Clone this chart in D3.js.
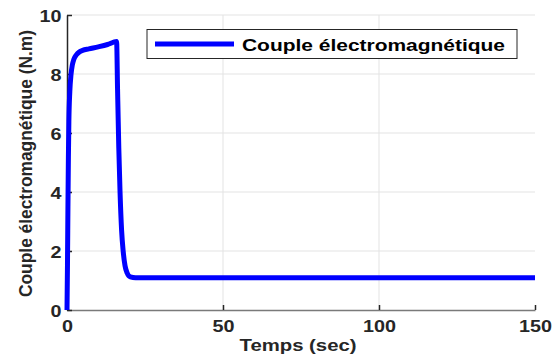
<!DOCTYPE html>
<html>
<head>
<meta charset="utf-8">
<script src="https://cdn.jsdelivr.net/npm/d3@7"></script>
<style>
  html, body { margin: 0; padding: 0; background: #fff; }
  svg { display: block; font-family: "Liberation Sans", Arial, sans-serif; }
</style>
</head>
<body>
<svg id="chart" width="558" height="359"></svg>
<script>
// Electromagnetic torque of the motor versus time
const timeSec = [0, 0.15, 0.3, 0.45, 0.6, 0.9, 1.3, 1.7, 2.2, 3, 4, 5, 7, 10, 13, 15.9,
                 16.2, 16.6, 17.0, 17.5, 18.0, 18.6, 19.3, 20.3, 22, 25, 50, 100, 150];
const torque  = [0, 1.5, 3.5, 5.2, 6.4, 7.4, 8.0, 8.3, 8.5, 8.65, 8.75, 8.8, 8.85, 8.92, 9.0, 9.1,
                 7.5, 5.5, 4.0, 2.7, 2.0, 1.5, 1.25, 1.12, 1.09, 1.09, 1.09, 1.09, 1.09];
const xTicks = [0, 50, 100, 150];
const yTicks = [0, 2, 4, 6, 8, 10];
const seriesName = "Couple électromagnétique";
const xTitle = "Temps (sec)";
const yTitle = "Couple électromagnétique (N.m)";

const svg = d3.select("#chart");
const margin = { left: 67, right: 23, top: 15, bottom: 49 };
const W = 558, H = 359;
const FONT = "Liberation Sans, Arial, sans-serif";

const x = d3.scaleLinear().domain([0, 150]).range([margin.left, W - margin.right]);
const y = d3.scaleLinear().domain([0, 10]).range([H - margin.bottom, margin.top]);

// grid
svg.append("g").selectAll("line").data(yTicks.filter(d => d > 0)).join("line")
  .attr("x1", x(0)).attr("x2", x(150))
  .attr("y1", d => y(d)).attr("y2", d => y(d))
  .attr("stroke", "#e3e3e3").attr("stroke-width", 1);
svg.append("g").selectAll("line").data([50, 100]).join("line")
  .attr("x1", d => x(d)).attr("x2", d => x(d))
  .attr("y1", y(0)).attr("y2", y(10))
  .attr("stroke", "#e3e3e3").attr("stroke-width", 1);

// tick labels are set wide, about 11px per digit
const labelWidth = d => String(d).length * 11;

const xAxis = d3.axisBottom(x).tickValues(xTicks).tickSizeInner(-5).tickSizeOuter(0).tickPadding(10);
const yAxis = d3.axisLeft(y).tickValues(yTicks).tickSizeInner(-5).tickSizeOuter(0).tickPadding(5.5);

const gx = svg.append("g").attr("transform", `translate(0,${y(0)})`).call(xAxis);
gx.select(".domain").attr("stroke", "#7a7a7a").attr("stroke-width", 1.5);
gx.selectAll(".tick line").attr("stroke", "#262626").attr("stroke-width", 1.5);
gx.selectAll(".tick text").attr("fill", "#262626").attr("font-size", 16.5).attr("font-weight", "bold")
  .attr("font-family", FONT)
  .attr("textLength", d => labelWidth(d)).attr("lengthAdjust", "spacingAndGlyphs");

const gy = svg.append("g").attr("transform", `translate(${x(0)},0)`).call(yAxis);
gy.select(".domain").attr("stroke", "#262626").attr("stroke-width", 1.5);
gy.selectAll(".tick line").attr("stroke", "#262626").attr("stroke-width", 1.5);
gy.selectAll(".tick text").attr("fill", "#262626").attr("font-size", 16.5).attr("font-weight", "bold")
  .attr("font-family", FONT).attr("dy", "0.42em")
  .attr("textLength", d => labelWidth(d)).attr("lengthAdjust", "spacingAndGlyphs");

// curve
const pts = timeSec.map((t, i) => [t, torque[i]]);
const line = d3.line().x(d => x(d[0])).y(d => y(d[1])).curve(d3.curveMonotoneX);
svg.append("path").datum(pts)
  .attr("d", line).attr("fill", "none")
  .attr("stroke", "#0000ff").attr("stroke-width", 5)
  .attr("stroke-linejoin", "round");

// axis titles
svg.append("text").attr("x", 298).attr("y", 351)
  .attr("text-anchor", "middle").attr("font-size", 16).attr("font-weight", "bold")
  .attr("fill", "#262626")
  .attr("textLength", 117).attr("lengthAdjust", "spacingAndGlyphs").text(xTitle);
svg.append("text").attr("transform", `translate(31.5,163.5) rotate(-90)`)
  .attr("text-anchor", "middle").attr("font-size", 17.5).attr("font-weight", "bold")
  .attr("fill", "#262626")
  .attr("textLength", 267).attr("lengthAdjust", "spacingAndGlyphs").text(yTitle);

// legend
const lg = svg.append("g");
lg.append("rect").attr("x", 147).attr("y", 29.5).attr("width", 370).attr("height", 29)
  .attr("fill", "#fff").attr("stroke", "#262626").attr("stroke-width", 1);
lg.append("line").attr("x1", 155).attr("x2", 234).attr("y1", 44).attr("y2", 44)
  .attr("stroke", "#0000ff").attr("stroke-width", 5);
lg.append("text").attr("x", 242).attr("y", 50.5).attr("font-size", 17).attr("font-weight", "bold")
  .attr("fill", "#000")
  .attr("textLength", 263).attr("lengthAdjust", "spacingAndGlyphs").text(seriesName);
</script>
</body>
</html>
